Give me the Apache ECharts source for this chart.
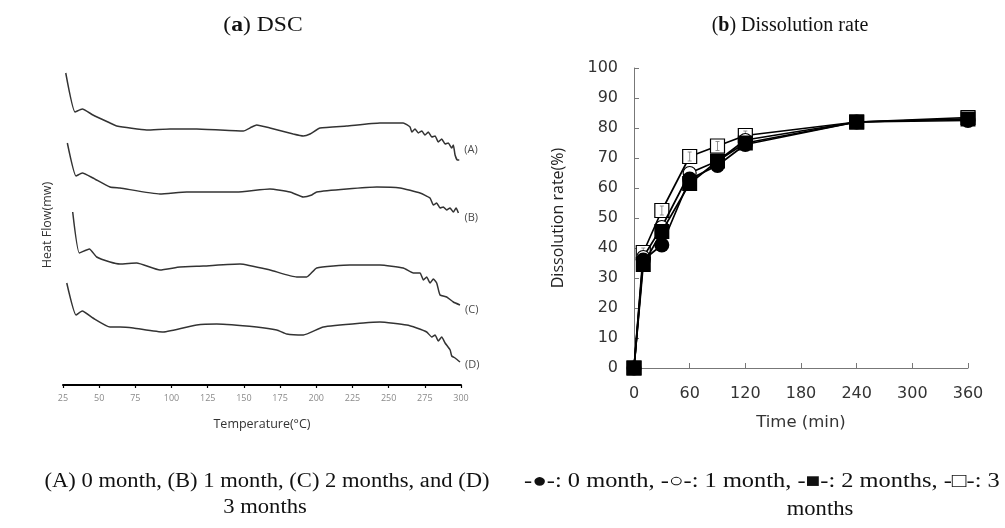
<!DOCTYPE html>
<html>
<head>
<meta charset="utf-8">
<script src="https://cdn.jsdelivr.net/npm/echarts@6/dist/echarts.min.js"></script>
<style>
html,body{margin:0;padding:0;background:#fff;}
#main{width:1005px;height:528px;}
</style>
</head>
<body>
<div id="main"></div>
<script>
// ---------- (a) DSC curves: [temperature °C, heat flow (arbitrary, offset per curve)] ----------
const dscTempTicks = [25,50,75,100,125,150,175,200,225,250,275,300];
const dscA = [[26.9,312],[33.3,273],[38.3,276],[45.7,270],[57.5,262],[62.1,259],[82.8,255],[98.9,256],[117.4,256],[149.6,254],[155.4,258],[158.8,260],[168.0,257],[184.1,251],[191.0,249],[195.7,251],[202.6,257],[221.0,259],[244.0,262],[260.1,262],[264.8,258],[266.0,253],[268.2,256],[270.5,252],[272.9,254],[275.1,250],[277.4,253],[279.8,248],[282.1,249],[284.3,243],[286.7,246],[289.0,241],[291.2,242],[293.6,237],[294.7,240],[295.9,230],[297.5,225],[298.8,225]];
const dscB = [[28.0,242],[34.0,209],[38.3,212],[45.7,207],[57.5,198],[64.4,197],[92.0,191],[110.5,193],[145.0,193],[168.0,196],[181.9,193],[191.1,188],[196.9,190],[200.3,193],[221.0,196],[241.8,198],[257.9,197],[271.7,192],[278.6,187],[280.9,180],[283.2,182],[285.5,177],[287.8,178],[290.1,175],[292.4,177],[294.7,173],[296.6,177],[298.2,172]];
const dscC = [[31.7,173],[36.3,132],[43.2,136],[48.3,128],[57.5,123],[64.4,121],[75.9,122],[92.0,115],[105.8,118],[121.9,119],[147.3,121],[168.0,115],[186.5,108],[193.4,108],[200.3,117],[223.3,120],[244.0,120],[260.1,117],[267.1,112],[271.7,112],[274.0,105],[276.3,108],[278.6,102],[280.9,106],[283.2,102],[285.5,90],[290.1,88],[294.7,83],[299.3,80]];
const dscD = [[27.6,102],[34.0,70],[38.3,74],[45.7,67],[57.5,58],[64.4,58],[73.6,57],[94.3,53],[117.4,60],[131.2,61],[158.8,58],[172.7,55],[179.6,51],[191.1,50],[204.9,58],[232.5,62],[244.0,63],[262.5,60],[269.4,57],[276.3,53],[279.8,48],[282.1,50],[284.3,44],[286.7,48],[289.0,42],[292.5,35],[293.6,29],[295.9,27],[299.3,23]];
const dscNames = ['(A)','(B)','(C)','(D)'];

// ---------- (b) Dissolution rate ----------
const timeMin = [0,10,30,60,90,120,240,360];
const month0 = [0,36,41,63,67.5,74.5,82,82.5];
const month1 = [0,37,47,65,69,76,82,83];
const month2 = [0,34.5,45.5,61.5,69,75,82,83];
const month3 = [0,38.5,52.5,70.5,74,77.5,82,83.5];
const month3Err = [0,1.5,1.5,1.5,1.5,1.5,0.8,0.8];
const timeTicks = [0,60,120,180,240,300,360];

const pair = (xs, ys) => xs.map((x,i)=>[x, ys[i]]);

const chart = echarts.init(document.getElementById('main'), null, {renderer:'canvas'});
const serif = '"Liberation Serif", "DejaVu Serif", serif';

function dscSeries(data, name, off){
  return {
    type:'line', xAxisIndex:0, yAxisIndex:0, data:data, name:name,
    showSymbol:false, symbol:'none', smooth:0.15,
    lineStyle:{color:'#333', width:1.5},
    endLabel:{show:true, formatter:name, color:'#4a4a4a', fontSize:11,
      fontFamily:'"Open Sans", sans-serif', distance:3, offset:off},
    animation:false, silent:true
  };
}
function dissSeries(data, name, symbol, filled, size, z){
  return {
    type:'line', xAxisIndex:1, yAxisIndex:1, name:name,
    data: pair(timeMin, data),
    symbol:symbol, symbolSize:size, showAllSymbol:true,
    lineStyle:{color:'#000', width:1.7},
    itemStyle:{color: filled ? '#000' : '#fff', borderColor:'#000', borderWidth: filled?0:1.2},
    z:z, animation:false, silent:true
  };
}

const option = {
  backgroundColor:'#fff',
  animation:false,
  grid:[
    {left:63, top:65, width:398, height:320},
    {left:634, top:68, width:334, height:300}
  ],
  xAxis:[
    {gridIndex:0, type:'value', min:25, max:300, interval:25,
      axisLine:{show:true, lineStyle:{color:'#000', width:2, cap:'round'}},
      axisTick:{show:true, length:3, inside:false, lineStyle:{color:'#000', width:1.2}},
      axisLabel:{color:'#8a8a8a', fontSize:9, margin:9, fontFamily:'"Open Sans", sans-serif'},
      splitLine:{show:false},
      name:'Temperature(°C)', nameLocation:'middle', nameGap:33,
      nameTextStyle:{color:'#333', fontSize:12.5, fontFamily:'"Open Sans", sans-serif'}
    },
    {gridIndex:1, type:'value', min:0, max:360, interval:60,
      axisLine:{show:true, onZero:false, lineStyle:{color:'#777', width:1}},
      axisTick:{show:true, inside:true, length:5, lineStyle:{color:'#777'}},
      axisLabel:{color:'#333', fontSize:16, margin:18, fontFamily:'"DejaVu Sans", sans-serif'},
      splitLine:{show:false},
      name:'Time (min)', nameLocation:'middle', nameGap:46,
      nameTextStyle:{color:'#333', fontSize:16.5, fontFamily:'"DejaVu Sans", sans-serif'}
    }
  ],
  yAxis:[
    {gridIndex:0, type:'value', min:0, max:320, show:true,
      axisLine:{show:false}, axisTick:{show:false}, axisLabel:{show:false}, splitLine:{show:false},
      name:'Heat Flow(mw)', nameLocation:'middle', nameGap:9,
      nameTextStyle:{color:'#333', fontSize:12.5, fontFamily:'"Open Sans", sans-serif'}
    },
    {gridIndex:1, type:'value', min:0, max:100, interval:10,
      axisLine:{show:true, onZero:false, lineStyle:{color:'#777', width:1}},
      axisTick:{show:true, inside:true, length:5, lineStyle:{color:'#777'}},
      axisLabel:{color:'#333', fontSize:16, margin:16, fontFamily:'"DejaVu Sans", sans-serif'},
      splitLine:{show:false},
      name:'Dissolution rate(%)', nameLocation:'middle', nameGap:68,
      nameTextStyle:{color:'#222', fontSize:16, fontFamily:'"Open Sans", sans-serif'}
    }
  ],
  series:[
    dscSeries(dscA, dscNames[0], [2,-10]),
    dscSeries(dscB, dscNames[1], [3,5]),
    dscSeries(dscC, dscNames[2], [2,5]),
    dscSeries(dscD, dscNames[3], [2,3]),
    dissSeries(month3, '3 months', 'rect', false, 14, 3),
    {
      type:'custom', xAxisIndex:1, yAxisIndex:1, z:3.5, silent:true, animation:false,
      data: timeMin.map((t,i)=>[t, month3[i]-month3Err[i], month3[i]+month3Err[i]]),
      renderItem: function(params, api){
        const lo = api.coord([api.value(0), api.value(1)]);
        const hi = api.coord([api.value(0), api.value(2)]);
        const w = 2;
        const st = {stroke:'#777', lineWidth:0.8};
        return {type:'group', children:[
          {type:'line', shape:{x1:lo[0],y1:lo[1],x2:hi[0],y2:hi[1]}, style:st},
          {type:'line', shape:{x1:lo[0]-w,y1:lo[1],x2:lo[0]+w,y2:lo[1]}, style:st},
          {type:'line', shape:{x1:hi[0]-w,y1:hi[1],x2:hi[0]+w,y2:hi[1]}, style:st}
        ]};
      }
    },
    dissSeries(month1, '1 month', 'circle', false, 13, 4),
    dissSeries(month0, '0 month', 'circle', true, 15, 5),
    dissSeries(month2, '2 months', 'rect', true, 15, 6)
  ],
  graphic:[
    {type:'text', x:263, y:26, scaleX:1.18, style:{text:'({b|a}) DSC', align:'center', verticalAlign:'middle',
      font:'20px '+serif, fill:'#111', rich:{b:{fontWeight:'bold', fontSize:20, fontFamily:serif, fill:'#111'}}}},
    {type:'text', x:790, y:26, scaleX:1.0, style:{text:'({b|b}) Dissolution rate', align:'center', verticalAlign:'middle',
      font:'20px '+serif, fill:'#111', rich:{b:{fontWeight:'bold', fontSize:20, fontFamily:serif, fill:'#111'}}}},
    {type:'text', x:267, y:482, scaleX:1.13, style:{text:'(A) 0 month, (B) 1 month, (C) 2 months, and (D)', align:'center', verticalAlign:'middle', font:'20px '+serif, fill:'#111'}},
    {type:'text', x:265, y:508, scaleX:1.13, style:{text:'3 months', align:'center', verticalAlign:'middle', font:'20px '+serif, fill:'#111'}},
    {type:'text', x:524, y:482, scaleX:1.22, style:{text:'-\u25CF-: 0 month, -\u25CB-: 1 month, -\u25A0-: 2 months, -\u25A1-: 3', align:'left', verticalAlign:'middle', font:'20px '+serif, fill:'#111'}},
    {type:'text', x:820, y:510, scaleX:1.13, style:{text:'months', align:'center', verticalAlign:'middle', font:'20px '+serif, fill:'#111'}}
  ]
};
chart.setOption(option);
</script>
</body>
</html>
